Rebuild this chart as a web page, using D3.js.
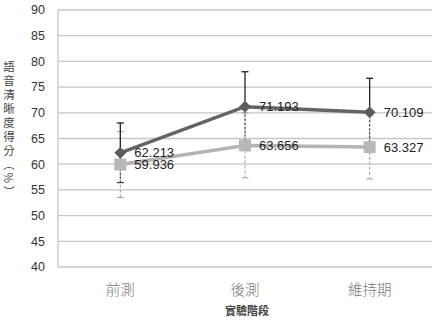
<!DOCTYPE html>
<html>
<head>
<meta charset="utf-8">
<script src="https://cdn.jsdelivr.net/npm/d3@7"></script>
<style>
  body { margin: 0; background: #fff; }
  svg { font-family: "Liberation Sans", "DejaVu Sans", sans-serif; }
</style>
</head>
<body>
<svg id="chart"></svg>
<script>
const stages = ["前測", "後測", "維持期"];
const darkValues = [62.213, 71.193, 70.109];
const darkErr = [5.8, 6.8, 6.6];
const grayValues = [59.936, 63.656, 63.327];
const grayErr = [6.4, 6.3, 6.2];
const yTicks = [40, 45, 50, 55, 60, 65, 70, 75, 80, 85, 90];

const width = 441, height = 326;
const margin = { top: 10, right: 9, bottom: 59, left: 58 };

const svg = d3.select("#chart").attr("width", width).attr("height", height);

const x = d3.scalePoint().domain(stages)
  .range([margin.left, width - margin.right]).padding(0.5);
const y = d3.scaleLinear().domain([40, 90])
  .range([height - margin.bottom, margin.top]);

// gridlines
svg.append("g")
  .selectAll("line")
  .data(yTicks)
  .join("line")
  .attr("x1", margin.left).attr("x2", width - margin.right)
  .attr("y1", d => y(d)).attr("y2", d => y(d))
  .attr("stroke", "#c6c6c6").attr("stroke-width", 1.3);

// left axis line
svg.append("line")
  .attr("x1", margin.left).attr("x2", margin.left)
  .attr("y1", y(90)).attr("y2", y(40))
  .attr("stroke", "#c6c6c6").attr("stroke-width", 1.3);

// y tick labels
svg.append("g")
  .selectAll("text")
  .data(yTicks)
  .join("text")
  .attr("x", 45).attr("y", d => y(d))
  .attr("dy", "0.35em")
  .attr("text-anchor", "end")
  .attr("font-size", 12.5)
  .attr("fill", "#333")
  .text(d => d);

// category labels
svg.append("g")
  .selectAll("text")
  .data(stages)
  .join("text")
  .attr("x", d => x(d)).attr("y", 290)
  .attr("dy", "0.35em")
  .attr("text-anchor", "middle")
  .attr("font-family", "Noto Sans CJK TC")
  .attr("font-size", 14.5)
  .attr("font-weight", 300)
  .attr("fill", "#777")
  .text(d => d);

// x title
svg.append("text")
  .attr("x", 247).attr("y", 311)
  .attr("dy", "0.35em")
  .attr("text-anchor", "middle")
  .attr("font-family", "Noto Sans CJK TC")
  .attr("font-size", 11)
  .attr("font-weight", "bold")
  .attr("fill", "#444")
  .text("實驗階段");

// y title, vertical
svg.append("text")
  .attr("x", 9).attr("y", 130)
  .attr("text-anchor", "middle")
  .style("writing-mode", "vertical-rl")
  .style("letter-spacing", "2.5px")
  .attr("font-family", "Noto Sans CJK TC")
  .attr("font-size", 11.5)
  .attr("fill", "#444")
  .text("語音清晰度得分（%）");

// error bars
function errorBars(vals, errs, cls) {
  const g = svg.append("g");
  vals.forEach((v, i) => {
    const cx = x(stages[i]);
    const parts = cls === "dark"
      ? [{ to: v + errs[i], dash: null, color: "#222", w: 1.3 },
         { to: v - errs[i], dash: "2,2", color: "#333", w: 1.1 }]
      : [{ to: v + errs[i], dash: "3,2", color: "#a8a8a8", w: 1.1 },
         { to: v - errs[i], dash: "3,2", color: "#a8a8a8", w: 1.1 }];
    parts.forEach(p => {
      g.append("line")
        .attr("x1", cx).attr("x2", cx)
        .attr("y1", y(v)).attr("y2", y(p.to))
        .attr("stroke", p.color).attr("stroke-width", p.w)
        .attr("stroke-dasharray", p.dash);
      g.append("line")
        .attr("x1", cx - 3.5).attr("x2", cx + 3.5)
        .attr("y1", y(p.to)).attr("y2", y(p.to))
        .attr("stroke", p.color).attr("stroke-width", p.w);
    });
  });
}
errorBars(grayValues, grayErr, "gray");
errorBars(darkValues, darkErr, "dark");

const line = d3.line().x((d, i) => x(stages[i])).y(d => y(d));

// gray series
svg.append("path")
  .datum(grayValues)
  .attr("d", line)
  .attr("fill", "none").attr("stroke", "#b4b4b4").attr("stroke-width", 3.5);
svg.append("g")
  .selectAll("rect")
  .data(grayValues)
  .join("rect")
  .attr("x", (d, i) => x(stages[i]) - 6)
  .attr("y", d => y(d) - 6)
  .attr("width", 12).attr("height", 12)
  .attr("fill", "#b8b8b8");

// dark series
svg.append("path")
  .datum(darkValues)
  .attr("d", line)
  .attr("fill", "none").attr("stroke", "#646464").attr("stroke-width", 3.5);
svg.append("g")
  .selectAll("path")
  .data(darkValues)
  .join("path")
  .attr("d", d3.symbol(d3.symbolDiamond2, 90))
  .attr("transform", (d, i) => `translate(${x(stages[i])},${y(d)})`)
  .attr("fill", "#5c5c5c");

// value labels
const labelData = darkValues.map((v, i) => ({ v, i }))
  .concat(grayValues.map((v, i) => ({ v, i })));
svg.append("g")
  .selectAll("text")
  .data(labelData)
  .join("text")
  .attr("x", d => x(stages[d.i]) + 14)
  .attr("y", d => y(d.v))
  .attr("dy", "0.35em")
  .attr("font-size", 13)
  .attr("fill", "#222")
  .text(d => d3.format(".3f")(d.v));
</script>
</body>
</html>
